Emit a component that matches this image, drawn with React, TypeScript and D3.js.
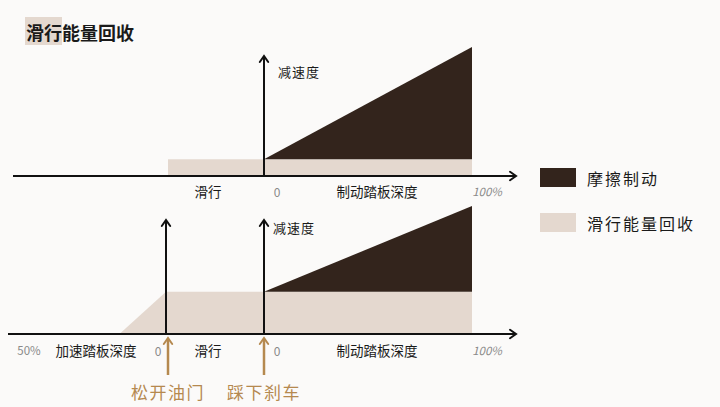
import React from "react";
import * as d3 from "d3";

// ---- data ----
const title = "滑行能量回收";
const seriesNames = ["摩擦制动", "滑行能量回收"];
const colors = ["#33241c", "#e4d8cf"];
const brakeDepth = [0, 100];
const frictionTop = [0, 0.87];
const regenTop = 0.13;
const frictionBottom = [0, 0.67];
const regenBottom = 0.33;
const accelDepth = [17, 0];
const accelRegen = [0, 0.33];
const coastSpan = [0, 1];
const yLabel = "减速度";
const coastLabel = "滑行";
const brakeLabel = "制动踏板深度";
const accelLabel = "加速踏板深度";
const zeroLabel = "0";
const brakeMaxLabel = "100%";
const accelMaxLabel = "50%";
const eventLabels = ["松开油门", "踩下刹车"];

const W = 720;
const H = 407;
const FONT = "'Noto Sans CJK SC', 'Noto Sans', sans-serif";
const ORANGE = "#b5894f";
const GREY = "#8a8a8a";

// scales
const xAccel = d3.scaleLinear().domain([50, 0]).range([29, 166]);
const xCoastTop = d3.scaleLinear().domain([0, 1]).range([168, 264]);
const xCoast = d3.scaleLinear().domain([0, 1]).range([166, 264]);
const xBrake = d3.scaleLinear().domain([0, 100]).range([264, 472]);
const yTop = d3.scaleLinear().domain([0, 1]).range([176, 47]);
const yBot = d3.scaleLinear().domain([0, 1]).range([334, 206]);

type P = { x: number; y0: number; y1: number };
const area = d3
  .area<P>()
  .x((d) => d.x)
  .y0((d) => d.y0)
  .y1((d) => d.y1);

function Chevron({ x, y, dir, color = "#111", size = 6 }: { x: number; y: number; dir: "up" | "right"; color?: string; size?: number }) {
  const pts =
    dir === "up"
      ? [[x - size * 0.7, y + size], [x, y], [x + size * 0.7, y + size]]
      : [[x - size, y - size * 0.7], [x, y], [x - size, y + size * 0.7]];
  return <polyline points={pts.map((p) => p.join(",")).join(" ")} fill="none" stroke={color} strokeWidth={2} strokeLinejoin="miter" strokeLinecap="round" />;
}

export default function App() {
  // top panel
  const topRegen: P[] = [
    { x: xCoastTop(coastSpan[0]), y0: yTop(0), y1: yTop(regenTop) },
    { x: xBrake(brakeDepth[1]), y0: yTop(0), y1: yTop(regenTop) },
  ];
  const topFriction: P[] = brakeDepth.map((b, i) => ({
    x: xBrake(b),
    y0: yTop(regenTop),
    y1: yTop(regenTop + frictionTop[i]),
  }));
  // bottom panel
  const botRegen: P[] = [
    ...accelDepth.map((a, i) => ({ x: xAccel(a), y0: yBot(0), y1: yBot(accelRegen[i]) })),
    { x: xCoast(coastSpan[1]), y0: yBot(0), y1: yBot(regenBottom) },
    { x: xBrake(brakeDepth[1]), y0: yBot(0), y1: yBot(regenBottom) },
  ];
  const botFriction: P[] = brakeDepth.map((b, i) => ({
    x: xBrake(b),
    y0: yBot(regenBottom),
    y1: yBot(regenBottom + frictionBottom[i]),
  }));

  const textCJK = { fontFamily: FONT, fill: "#1a1a1a" } as const;
  const topRowY = 191;
  const botRowY = 350;

  return (
    <svg width={W} height={H} style={{ position: "absolute", left: 0, top: 0, background: "#fbfaf9" }}>
      <rect x={0} y={0} width={W} height={H} fill="#fbfaf9" />
      {/* title */}
      <rect x={25} y={17} width={37} height={28} fill="#e4d8cf" />
      <text x={26} y={32} dominantBaseline="central" fontSize={18} fontWeight={700} style={textCJK}>
        {title}
      </text>

      {/* ---- top panel ---- */}
      <path d={area(topRegen) || ""} fill={colors[1]} />
      <path d={area(topFriction) || ""} fill={colors[0]} />
      <line x1={13} y1={yTop(0)} x2={515} y2={yTop(0)} stroke="#111" strokeWidth={2} />
      <Chevron x={516} y={yTop(0)} dir="right" />
      <line x1={xBrake(0)} y1={yTop(0)} x2={xBrake(0)} y2={57} stroke="#111" strokeWidth={2} />
      <Chevron x={xBrake(0)} y={56} dir="up" />
      <text x={278} y={71} dominantBaseline="central" fontSize={13} letterSpacing={1} style={textCJK}>{yLabel}</text>
      <text x={(xCoastTop(0) + xCoastTop(1)) / 2 - 8} y={topRowY} textAnchor="middle" dominantBaseline="central" fontSize={13.5} style={textCJK}>{coastLabel}</text>
      <text x={277} y={topRowY} textAnchor="middle" dominantBaseline="central" fontSize={12} fill={GREY} fontFamily={FONT}>{zeroLabel}</text>
      <text x={377} y={topRowY} textAnchor="middle" dominantBaseline="central" fontSize={13.5} style={textCJK}>{brakeLabel}</text>
      <text x={487} y={topRowY} textAnchor="middle" dominantBaseline="central" fontSize={11.5} fontStyle="italic" fill={GREY} fontFamily={FONT}>{brakeMaxLabel}</text>

      {/* ---- bottom panel ---- */}
      <path d={area(botRegen) || ""} fill={colors[1]} />
      <path d={area(botFriction) || ""} fill={colors[0]} />
      <line x1={8} y1={yBot(0)} x2={515} y2={yBot(0)} stroke="#111" strokeWidth={2} />
      <Chevron x={516} y={yBot(0)} dir="right" />
      <line x1={xAccel(0)} y1={yBot(0)} x2={xAccel(0)} y2={221} stroke="#111" strokeWidth={2} />
      <Chevron x={xAccel(0)} y={220} dir="up" />
      <line x1={xBrake(0)} y1={yBot(0)} x2={xBrake(0)} y2={221} stroke="#111" strokeWidth={2} />
      <Chevron x={xBrake(0)} y={220} dir="up" />
      <text x={273} y={227} dominantBaseline="central" fontSize={13} letterSpacing={1} style={textCJK}>{yLabel}</text>
      <text x={xAccel(50)} y={botRowY} textAnchor="middle" dominantBaseline="central" fontSize={11.5} fill={GREY} fontFamily={FONT}>{accelMaxLabel}</text>
      <text x={96} y={botRowY} textAnchor="middle" dominantBaseline="central" fontSize={13.5} style={textCJK}>{accelLabel}</text>
      <text x={158} y={botRowY} textAnchor="middle" dominantBaseline="central" fontSize={12} fill={GREY} fontFamily={FONT}>{zeroLabel}</text>
      <text x={208} y={botRowY} textAnchor="middle" dominantBaseline="central" fontSize={13.5} style={textCJK}>{coastLabel}</text>
      <text x={277} y={botRowY} textAnchor="middle" dominantBaseline="central" fontSize={12} fill={GREY} fontFamily={FONT}>{zeroLabel}</text>
      <text x={377} y={botRowY} textAnchor="middle" dominantBaseline="central" fontSize={13.5} style={textCJK}>{brakeLabel}</text>
      <text x={487} y={botRowY} textAnchor="middle" dominantBaseline="central" fontSize={11.5} fontStyle="italic" fill={GREY} fontFamily={FONT}>{brakeMaxLabel}</text>

      {/* event arrows */}
      {[xAccel(0) + 2, xBrake(0)].map((x, i) => (
        <g key={i}>
          <line x1={x} y1={375} x2={x} y2={339} stroke={ORANGE} strokeWidth={2.5} />
          <Chevron x={x} y={338} dir="up" color={ORANGE} size={6} />
          <text x={x} y={391} textAnchor="middle" dominantBaseline="central" fontSize={17} letterSpacing={1.5} fill={ORANGE} fontFamily={FONT}>
            {eventLabels[i]}
          </text>
        </g>
      ))}

      {/* legend */}
      {seriesNames.map((name, i) => (
        <g key={name} transform={`translate(540, ${168 + i * 45})`}>
          <rect x={0} y={0} width={36} height={19} fill={colors[i]} />
          <text x={47} y={10} dominantBaseline="central" fontSize={16} letterSpacing={2} style={textCJK}>
            {name}
          </text>
        </g>
      ))}
    </svg>
  );
}
